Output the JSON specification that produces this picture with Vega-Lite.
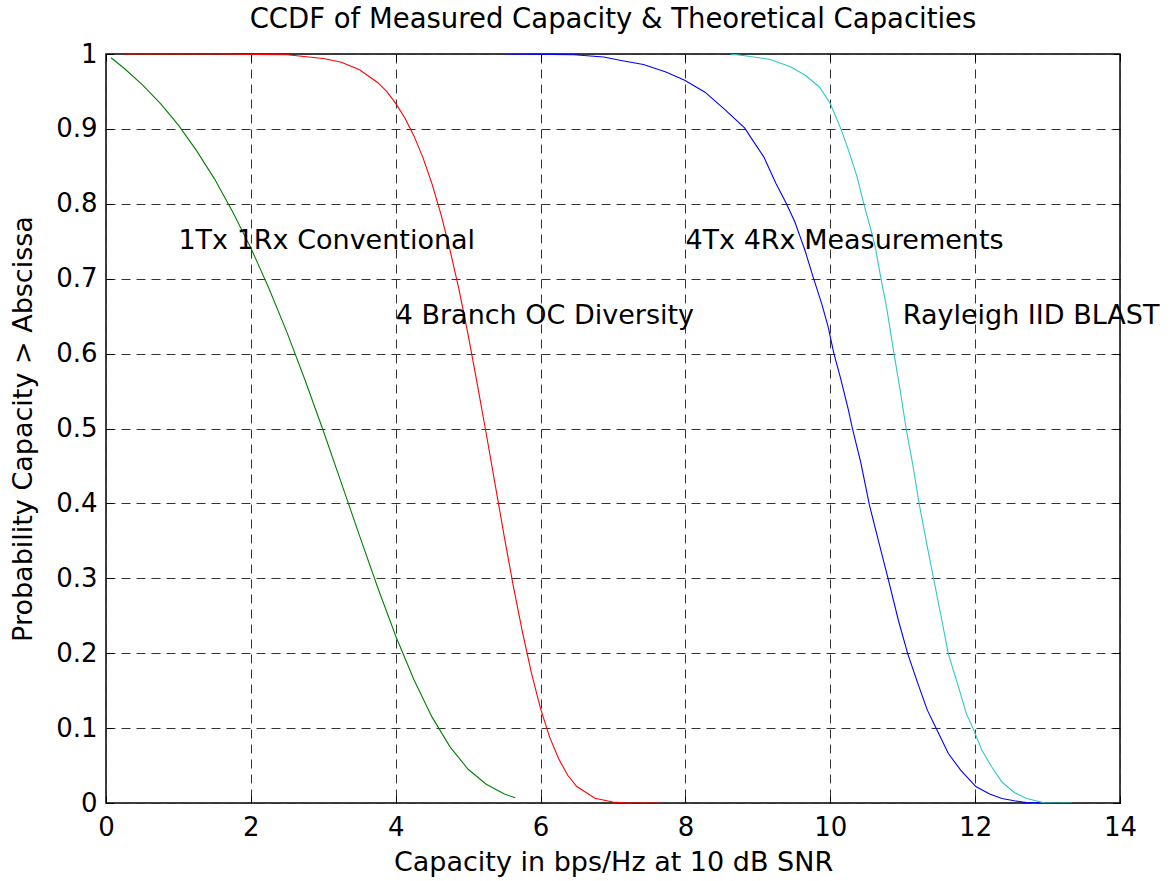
{
  "$schema": "https://vega.github.io/schema/vega-lite/v6.json",
  "autosize": "none",
  "width": 1014,
  "height": 749,
  "padding": {"left": 106, "top": 54, "right": 55, "bottom": 78},
  "background": "white",
  "title": {
    "text": "CCDF of Measured Capacity & Theoretical Capacities",
    "font": "DejaVu Sans",
    "fontSize": 27.5,
    "fontWeight": "normal",
    "color": "black",
    "anchor": "middle",
    "offset": 8
  },
  "resolve": {"axis": {"x": "independent", "y": "independent"}},
  "config": {
    "view": {"stroke": "black", "strokeWidth": 1.5},
    "font": "DejaVu Sans",
    "axis": {
      "labelFont": "DejaVu Sans",
      "labelFontSize": 26,
      "labelColor": "black",
      "titleFont": "DejaVu Sans",
      "titleFontSize": 27,
      "titleFontWeight": "normal",
      "titleColor": "black",
      "domain": false,
      "grid": true,
      "gridColor": "#333",
      "gridDash": [9, 6],
      "gridWidth": 1,
      "ticks": true,
      "tickColor": "black",
      "tickSize": -7,
      "tickWidth": 1
    }
  },
  "datasets": {
    "curves": [
      {"series": "1Tx1Rx", "x": 0.07, "p": 0.995},
      {"series": "1Tx1Rx", "x": 0.25, "p": 0.981},
      {"series": "1Tx1Rx", "x": 0.5, "p": 0.959},
      {"series": "1Tx1Rx", "x": 0.75, "p": 0.934},
      {"series": "1Tx1Rx", "x": 1.0, "p": 0.905},
      {"series": "1Tx1Rx", "x": 1.25, "p": 0.871},
      {"series": "1Tx1Rx", "x": 1.5, "p": 0.833},
      {"series": "1Tx1Rx", "x": 1.75, "p": 0.789},
      {"series": "1Tx1Rx", "x": 2.0, "p": 0.741},
      {"series": "1Tx1Rx", "x": 2.25, "p": 0.687},
      {"series": "1Tx1Rx", "x": 2.5, "p": 0.628},
      {"series": "1Tx1Rx", "x": 2.75, "p": 0.564},
      {"series": "1Tx1Rx", "x": 3.0, "p": 0.497},
      {"series": "1Tx1Rx", "x": 3.25, "p": 0.427},
      {"series": "1Tx1Rx", "x": 3.5, "p": 0.357},
      {"series": "1Tx1Rx", "x": 3.75, "p": 0.288},
      {"series": "1Tx1Rx", "x": 4.0, "p": 0.223},
      {"series": "1Tx1Rx", "x": 4.25, "p": 0.165},
      {"series": "1Tx1Rx", "x": 4.5, "p": 0.115},
      {"series": "1Tx1Rx", "x": 4.75, "p": 0.075},
      {"series": "1Tx1Rx", "x": 5.0, "p": 0.045},
      {"series": "1Tx1Rx", "x": 5.25, "p": 0.025},
      {"series": "1Tx1Rx", "x": 5.5, "p": 0.012},
      {"series": "1Tx1Rx", "x": 5.65, "p": 0.007},

      {"series": "OC", "x": 0.25, "p": 1.0},
      {"series": "OC", "x": 1.5, "p": 1.0},
      {"series": "OC", "x": 2.5, "p": 0.999},
      {"series": "OC", "x": 3.0, "p": 0.994},
      {"series": "OC", "x": 3.25, "p": 0.989},
      {"series": "OC", "x": 3.5, "p": 0.979},
      {"series": "OC", "x": 3.75, "p": 0.962},
      {"series": "OC", "x": 3.875, "p": 0.95},
      {"series": "OC", "x": 4.0, "p": 0.934},
      {"series": "OC", "x": 4.125, "p": 0.915},
      {"series": "OC", "x": 4.25, "p": 0.891},
      {"series": "OC", "x": 4.375, "p": 0.862},
      {"series": "OC", "x": 4.5, "p": 0.827},
      {"series": "OC", "x": 4.625, "p": 0.786},
      {"series": "OC", "x": 4.75, "p": 0.738},
      {"series": "OC", "x": 4.875, "p": 0.685},
      {"series": "OC", "x": 5.0, "p": 0.625},
      {"series": "OC", "x": 5.125, "p": 0.56},
      {"series": "OC", "x": 5.25, "p": 0.493},
      {"series": "OC", "x": 5.375, "p": 0.424},
      {"series": "OC", "x": 5.5, "p": 0.355},
      {"series": "OC", "x": 5.625, "p": 0.289},
      {"series": "OC", "x": 5.75, "p": 0.228},
      {"series": "OC", "x": 5.875, "p": 0.173},
      {"series": "OC", "x": 6.0, "p": 0.126},
      {"series": "OC", "x": 6.125, "p": 0.088},
      {"series": "OC", "x": 6.25, "p": 0.059},
      {"series": "OC", "x": 6.375, "p": 0.037},
      {"series": "OC", "x": 6.5, "p": 0.022},
      {"series": "OC", "x": 6.75, "p": 0.0063},
      {"series": "OC", "x": 7.0, "p": 0.0013},
      {"series": "OC", "x": 7.2, "p": 0.0},
      {"series": "OC", "x": 7.65, "p": 0.0},

      {"series": "Meas", "x": 5.51, "p": 1.0},
      {"series": "Meas", "x": 6.46, "p": 0.999},
      {"series": "Meas", "x": 6.87, "p": 0.996},
      {"series": "Meas", "x": 7.13, "p": 0.991},
      {"series": "Meas", "x": 7.42, "p": 0.986},
      {"series": "Meas", "x": 7.73, "p": 0.976},
      {"series": "Meas", "x": 7.99, "p": 0.965},
      {"series": "Meas", "x": 8.27, "p": 0.949},
      {"series": "Meas", "x": 8.53, "p": 0.927},
      {"series": "Meas", "x": 8.82, "p": 0.901},
      {"series": "Meas", "x": 8.9, "p": 0.889},
      {"series": "Meas", "x": 9.08, "p": 0.863},
      {"series": "Meas", "x": 9.25, "p": 0.827},
      {"series": "Meas", "x": 9.39, "p": 0.801},
      {"series": "Meas", "x": 9.51, "p": 0.776},
      {"series": "Meas", "x": 9.65, "p": 0.738},
      {"series": "Meas", "x": 9.77, "p": 0.7},
      {"series": "Meas", "x": 9.88, "p": 0.667},
      {"series": "Meas", "x": 9.97, "p": 0.636},
      {"series": "Meas", "x": 10.05, "p": 0.6},
      {"series": "Meas", "x": 10.14, "p": 0.568},
      {"series": "Meas", "x": 10.25, "p": 0.525},
      {"series": "Meas", "x": 10.31, "p": 0.498},
      {"series": "Meas", "x": 10.42, "p": 0.455},
      {"series": "Meas", "x": 10.54, "p": 0.398},
      {"series": "Meas", "x": 10.66, "p": 0.352},
      {"series": "Meas", "x": 10.8, "p": 0.299},
      {"series": "Meas", "x": 10.94, "p": 0.244},
      {"series": "Meas", "x": 11.07, "p": 0.199},
      {"series": "Meas", "x": 11.2, "p": 0.162},
      {"series": "Meas", "x": 11.34, "p": 0.124},
      {"series": "Meas", "x": 11.46, "p": 0.1},
      {"series": "Meas", "x": 11.63, "p": 0.066},
      {"series": "Meas", "x": 11.8, "p": 0.044},
      {"series": "Meas", "x": 12.01, "p": 0.022},
      {"series": "Meas", "x": 12.2, "p": 0.012},
      {"series": "Meas", "x": 12.37, "p": 0.006},
      {"series": "Meas", "x": 12.54, "p": 0.003},
      {"series": "Meas", "x": 12.71, "p": 0.0005},
      {"series": "Meas", "x": 12.94, "p": 0.0},

      {"series": "BLAST", "x": 8.62, "p": 1.0},
      {"series": "BLAST", "x": 8.87, "p": 0.997},
      {"series": "BLAST", "x": 9.16, "p": 0.993},
      {"series": "BLAST", "x": 9.45, "p": 0.983},
      {"series": "BLAST", "x": 9.65, "p": 0.972},
      {"series": "BLAST", "x": 9.85, "p": 0.956},
      {"series": "BLAST", "x": 10.0, "p": 0.934},
      {"series": "BLAST", "x": 10.15, "p": 0.899},
      {"series": "BLAST", "x": 10.25, "p": 0.872},
      {"series": "BLAST", "x": 10.37, "p": 0.836},
      {"series": "BLAST", "x": 10.46, "p": 0.801},
      {"series": "BLAST", "x": 10.57, "p": 0.762},
      {"series": "BLAST", "x": 10.62, "p": 0.743},
      {"series": "BLAST", "x": 10.7, "p": 0.7},
      {"series": "BLAST", "x": 10.78, "p": 0.66},
      {"series": "BLAST", "x": 10.88, "p": 0.6},
      {"series": "BLAST", "x": 10.97, "p": 0.548},
      {"series": "BLAST", "x": 11.05, "p": 0.498},
      {"series": "BLAST", "x": 11.14, "p": 0.451},
      {"series": "BLAST", "x": 11.23, "p": 0.398},
      {"series": "BLAST", "x": 11.34, "p": 0.342},
      {"series": "BLAST", "x": 11.43, "p": 0.298},
      {"series": "BLAST", "x": 11.54, "p": 0.244},
      {"series": "BLAST", "x": 11.63, "p": 0.199},
      {"series": "BLAST", "x": 11.77, "p": 0.155},
      {"series": "BLAST", "x": 11.88, "p": 0.119},
      {"series": "BLAST", "x": 11.97, "p": 0.1},
      {"series": "BLAST", "x": 12.09, "p": 0.071},
      {"series": "BLAST", "x": 12.23, "p": 0.048},
      {"series": "BLAST", "x": 12.37, "p": 0.028},
      {"series": "BLAST", "x": 12.54, "p": 0.014},
      {"series": "BLAST", "x": 12.71, "p": 0.006},
      {"series": "BLAST", "x": 12.88, "p": 0.002},
      {"series": "BLAST", "x": 12.97, "p": 0.0},
      {"series": "BLAST", "x": 13.34, "p": 0.0}
    ],
    "labels": [
      {"label": "1Tx 1Rx Conventional", "x": 1.0, "p": 0.75},
      {"label": "4 Branch OC Diversity", "x": 4.0, "p": 0.65},
      {"label": "4Tx 4Rx Measurements", "x": 8.0, "p": 0.75},
      {"label": "Rayleigh IID BLAST", "x": 11.0, "p": 0.65}
    ]
  },
  "layer": [
    {
      "data": {"name": "curves"},
      "mark": {"type": "line", "strokeWidth": 1.1, "clip": true},
      "encoding": {
        "x": {
          "field": "x",
          "type": "quantitative",
          "scale": {"domain": [0, 14], "nice": false, "zero": false},
          "axis": {
            "orient": "bottom",
            "values": [0, 2, 4, 6, 8, 10, 12, 14],
            "format": "d",
            "title": "Capacity in bps/Hz at 10 dB SNR",
            "labelPadding": 18,
            "titlePadding": 9,
            "labelFlush": false
          }
        },
        "y": {
          "field": "p",
          "type": "quantitative",
          "scale": {"domain": [0, 1], "nice": false, "zero": false},
          "axis": {
            "orient": "left",
            "values": [0, 0.1, 0.2, 0.3, 0.4, 0.5, 0.6, 0.7, 0.8, 0.9, 1],
            "format": "~g",
            "title": "Probability Capacity > Abscissa",
            "labelPadding": 16,
            "titlePadding": 18,
            "labelFlush": false
          }
        },
        "color": {
          "field": "series",
          "type": "nominal",
          "scale": {
            "domain": ["1Tx1Rx", "OC", "Meas", "BLAST"],
            "range": ["#008000", "#ff0000", "#0000ff", "#2ec8c8"]
          },
          "legend": null
        },
        "order": {"field": "x", "type": "quantitative"}
      }
    },
    {
      "data": {"name": "labels"},
      "mark": {
        "type": "text",
        "align": "left",
        "baseline": "middle",
        "font": "DejaVu Sans",
        "fontSize": 27,
        "color": "black"
      },
      "encoding": {
        "x": {
          "field": "x",
          "type": "quantitative",
          "axis": {
            "orient": "top",
            "values": [0, 2, 4, 6, 8, 10, 12, 14],
            "labels": false,
            "title": null,
            "grid": false
          }
        },
        "y": {
          "field": "p",
          "type": "quantitative",
          "axis": {
            "orient": "right",
            "values": [0, 0.1, 0.2, 0.3, 0.4, 0.5, 0.6, 0.7, 0.8, 0.9, 1],
            "labels": false,
            "title": null,
            "grid": false
          }
        },
        "text": {"field": "label", "type": "nominal"}
      }
    }
  ]
}
